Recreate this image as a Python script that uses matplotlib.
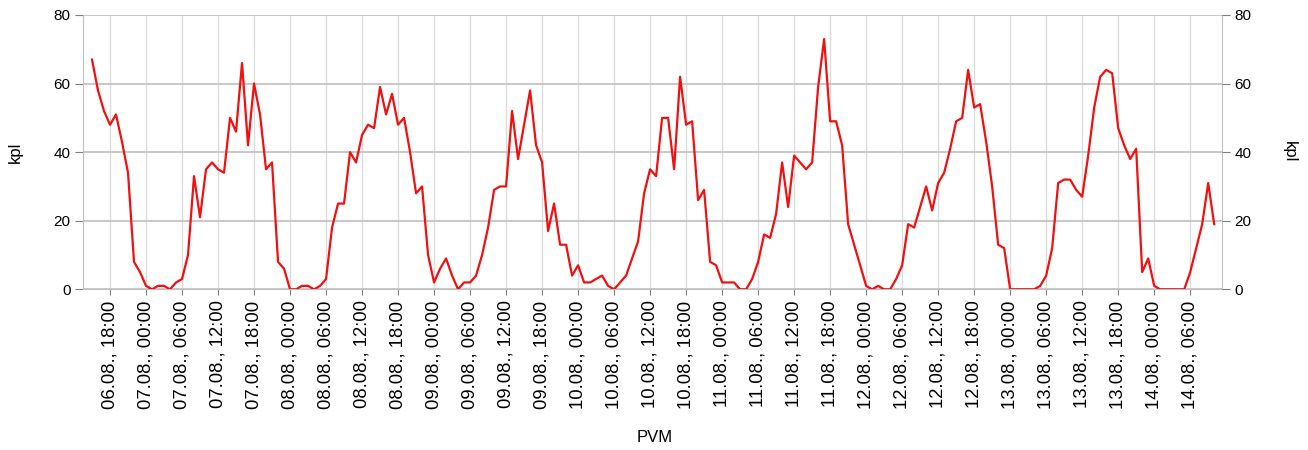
import numpy as np
import pandas as pd
import matplotlib
matplotlib.use("Agg")
import matplotlib.pyplot as plt
import matplotlib.dates as mdates

# hourly values, one list per calendar day (06.08. starts at 15:00, 14.08. ends at 10:00)
aug06 = [67, 58, 52, 48, 51, 43, 34, 8, 5]
aug07 = [1, 0, 1, 1, 0, 2, 3, 10, 33, 21, 35, 37, 35, 34, 50, 46, 66, 42, 60, 51, 35, 37, 8, 6]
aug08 = [0, 0, 1, 1, 0, 1, 3, 18, 25, 25, 40, 37, 45, 48, 47, 59, 51, 57, 48, 50, 40, 28, 30, 10]
aug09 = [2, 6, 9, 4, 0, 2, 2, 4, 10, 18, 29, 30, 30, 52, 38, 48, 58, 42, 37, 17, 25, 13, 13, 4]
aug10 = [7, 2, 2, 3, 4, 1, 0, 2, 4, 9, 14, 28, 35, 33, 50, 50, 35, 62, 48, 49, 26, 29, 8, 7]
aug11 = [2, 2, 2, 0, 0, 3, 8, 16, 15, 22, 37, 24, 39, 37, 35, 37, 59, 73, 49, 49, 42, 19, 13, 7]
aug12 = [1, 0, 1, 0, 0, 3, 7, 19, 18, 24, 30, 23, 31, 34, 41, 49, 50, 64, 53, 54, 43, 30, 13, 12]
aug13 = [0, 0, 0, 0, 0, 1, 4, 12, 31, 32, 32, 29, 27, 39, 53, 62, 64, 63, 47, 42, 38, 41, 5, 9]
aug14 = [1, 0, 0, 0, 0, 0, 5, 12, 19, 31, 19]

start = "2023-08-06 15:00"
y_ticks = [0, 20, 40, 60, 80]
y_label = "kpl"
x_label = "PVM"

values = aug06 + aug07 + aug08 + aug09 + aug10 + aug11 + aug12 + aug13 + aug14
times = pd.date_range(start, periods=len(values), freq="h")

plt.rcParams["font.family"] = ["Liberation Sans", "DejaVu Sans"]

fig = plt.figure(figsize=(13.08, 4.5), dpi=100)
ax = fig.add_axes([83 / 1308, 1 - 289.3 / 450, (1222 - 83) / 1308, (289.3 - 15) / 450])

ax.plot(times, values, color="#f01010", lw=1.6, zorder=3)

ax.set_xlim(times[0] - pd.Timedelta(hours=1.5), times[0] + pd.Timedelta(hours=188.3))
ax.set_ylim(0, 80)
ax.set_yticks(y_ticks)

ticks = pd.date_range("2023-08-06 18:00", "2023-08-14 06:00", freq="6h")
ax.set_xticks(ticks)
ax.set_xticklabels([t.strftime("%d.%m., %H:%M") for t in ticks], rotation=90, fontsize=13.3)
ax.tick_params(axis="x", length=4, color="#808080", pad=4)
ax.tick_params(axis="y", length=6, color="#808080", labelsize=11, pad=3)

ax.grid(axis="x", color="#dcdcdc", lw=1.0)
ax.grid(axis="y", color="#c4c4c4", lw=1.3)
ax.set_axisbelow(True)
for side in ["left", "right", "bottom"]:
    ax.spines[side].set_color("#c0c0c0")
ax.spines["top"].set_visible(False)

ax2 = ax.twinx()
ax2.set_ylim(0, 80)
ax2.set_yticks(y_ticks)
ax2.tick_params(axis="y", length=6, color="#808080", labelsize=11, pad=3)
for side in ["left", "right", "bottom", "top"]:
    ax2.spines[side].set_visible(False)

fig.text(15 / 1308, 1 - 152 / 450, y_label, rotation=90, ha="center", va="center", fontsize=12)
fig.text(1289 / 1308, 1 - 152 / 450, y_label, rotation=270, ha="center", va="center", fontsize=12)
fig.text(655 / 1308, 1 - 437 / 450, x_label, ha="center", va="center", fontsize=12)

fig.savefig("out.png", dpi=100)
